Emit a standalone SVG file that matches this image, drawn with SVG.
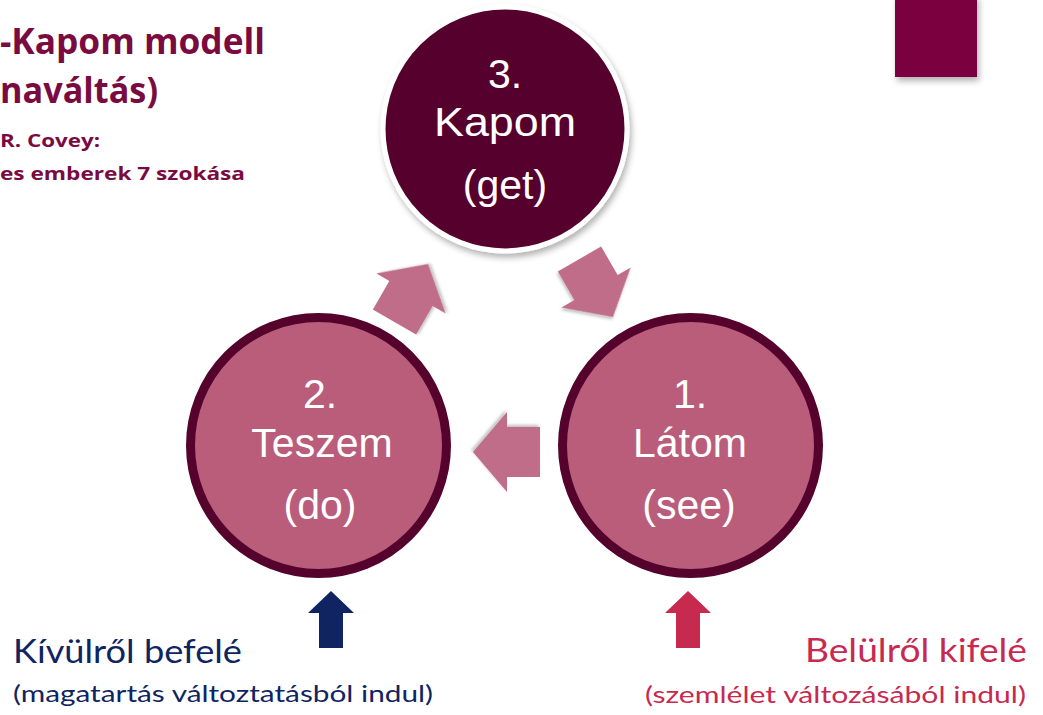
<svg xmlns="http://www.w3.org/2000/svg" width="1043" height="715" viewBox="0 0 1043 715">
  <defs>
    <filter id="shadow" x="-20%" y="-20%" width="140%" height="150%">
      <feDropShadow dx="2" dy="4" stdDeviation="3" flood-color="#000" flood-opacity="0.3"/>
    </filter>
    <filter id="shadowSm" x="-20%" y="-20%" width="140%" height="140%">
      <feDropShadow dx="1.5" dy="2" stdDeviation="1.5" flood-color="#000" flood-opacity="0.25"/>
    </filter>
    <path id="arrowShape" d="M0,0 L-34,-40 L-34,-25 L-67,-25 L-67,25 L-34,25 L-34,40 Z"/>
    <path id="upArrow" d="M0,0 L23,22 L12,22 L12,57 L-12,57 L-12,22 L-23,22 Z"/>
  </defs>
  <style>
    .title { font-family: "Open Sans", Lato, sans-serif; font-weight: bold; fill: #7a0b41; }
    .ctext { font-family: "Liberation Sans", Arial, sans-serif; font-size: 41px; fill: #ffffff; text-anchor: middle; }
    .small { font-family: Lato, "Noto Sans", sans-serif; }
    .ring { fill: #b95d7b; stroke: #55032c; stroke-width: 9; }
    .cyc { fill: #bf6d88; }
  </style>

  <rect width="1043" height="715" fill="#ffffff"/>

  <!-- decoration square -->
  <rect x="895" y="-5" width="82" height="82" fill="#7a063f" filter="url(#shadow)"/>

  <!-- title -->
  <g id="title">
    <text class="title" x="0" y="54" font-size="36" textLength="265" lengthAdjust="spacingAndGlyphs">-Kapom modell</text>
    <text class="title" x="0" y="103" font-size="36" textLength="158" lengthAdjust="spacingAndGlyphs">naváltás)</text>
    <text class="title" x="0" y="147" font-size="17" textLength="100" lengthAdjust="spacingAndGlyphs">R. Covey:</text>
    <text class="title" x="0" y="180" font-size="17" textLength="245" lengthAdjust="spacingAndGlyphs">es emberek 7 szokása</text>
  </g>

  <!-- connectors -->
  <g id="connectors">
    <use href="#arrowShape" class="cyc" transform="translate(473,452) rotate(180)" filter="url(#shadowSm)"/>
    <use href="#arrowShape" class="cyc" transform="translate(428,264) rotate(-60)" filter="url(#shadowSm)"/>
    <use href="#arrowShape" class="cyc" transform="translate(613,317) rotate(60)" filter="url(#shadowSm)"/>
    <use href="#upArrow" fill="#0f2461" transform="translate(331,591)"/>
    <use href="#upArrow" fill="#c8294f" transform="translate(688,591)"/>
  </g>

  <!-- node 3 -->
  <g id="node-kapom">
    <circle cx="505" cy="129" r="122" fill="#56042f" stroke="#ffffff" stroke-width="5" filter="url(#shadow)"/>
    <text class="ctext" x="505" y="88">3.</text>
    <text class="ctext" x="505" y="136" textLength="142" lengthAdjust="spacingAndGlyphs">Kapom</text>
    <text class="ctext" x="505" y="199">(get)</text>
  </g>

  <!-- node 2 -->
  <g id="node-teszem">
    <circle class="ring" cx="318.5" cy="445.5" r="128"/>
    <text class="ctext" x="320" y="408">2.</text>
    <text class="ctext" x="322" y="457">Teszem</text>
    <text class="ctext" x="320" y="519">(do)</text>
  </g>

  <!-- node 1 -->
  <g id="node-latom">
    <circle class="ring" cx="690.5" cy="445.5" r="128"/>
    <text class="ctext" x="690" y="408">1.</text>
    <text class="ctext" x="690" y="457">Látom</text>
    <text class="ctext" x="689" y="519">(see)</text>
  </g>

  <!-- bottom labels -->
  <g id="label-left">
    <text class="small" x="13" y="663" font-size="32" fill="#0f2461" textLength="229" lengthAdjust="spacingAndGlyphs">Kívülről befelé</text>
    <text class="small" x="13" y="702" font-size="24" fill="#0f2461" textLength="420" lengthAdjust="spacingAndGlyphs">(magatartás változtatásból indul)</text>
  </g>
  <g id="label-right">
    <text class="small" x="805" y="662" font-size="32" fill="#c8294f" textLength="222" lengthAdjust="spacingAndGlyphs">Belülről kifelé</text>
    <text class="small" x="645" y="703" font-size="24" fill="#c8294f" textLength="381" lengthAdjust="spacingAndGlyphs">(szemlélet változásából indul)</text>
  </g>
</svg>
